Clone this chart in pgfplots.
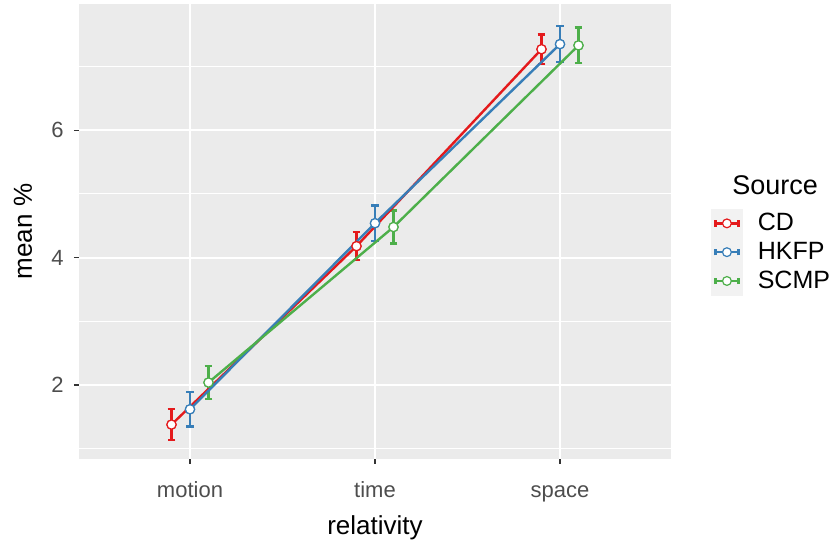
\documentclass[border=0pt]{standalone}
\usepackage{pgfplots}
\pgfplotsset{compat=1.18}
\usepackage{pgfplotstable}
\usepackage{fontspec}
\setmainfont{Liberation Sans}
\definecolor{cdred}{HTML}{E41A1C}
\definecolor{hkblue}{HTML}{377EB8}
\definecolor{scgreen}{HTML}{4DAF4A}
\definecolor{panel}{HTML}{EBEBEB}
\definecolor{keybg}{HTML}{F2F2F2}
\definecolor{ticklab}{HTML}{4D4D4D}
\definecolor{tickcol}{HTML}{333333}

\pgfplotstableread{
x y e
0.9 1.38 0.24
1.9 4.18 0.22
2.9 7.27 0.23
}\tcd
\pgfplotstableread{
x y e
1.0 1.62 0.27
2.0 4.54 0.28
3.0 7.35 0.28
}\thk
\pgfplotstableread{
x y e
1.1 2.04 0.26
2.1 4.48 0.26
3.1 7.33 0.28
}\tsc

\pgfplotsset{
  errs/.style={forget plot, color=#1, only marks, mark=none, line width=1.2pt,
    error bars/y dir=both, error bars/y explicit,
    error bars/error mark=|,
    error bars/error bar style={color=#1, line width=1.2pt, solid},
    error bars/error mark options={color=#1, line width=1.2pt, mark size=1.9pt, solid}},
  lin/.style={forget plot, draw=#1, line width=1.2pt, mark=none},
  pts/.style={forget plot, only marks, mark=*, mark size=2.3pt,
    mark options={draw=#1, fill=white, line width=0.6pt, solid}},
  srckey/.style={legend image code/.code={
    \fill[keybg] (0pt,-7pt) rectangle (15.5pt,7pt);
    \draw[#1, line width=1.2pt] (2pt,0pt) -- (13.5pt,0pt);
    \draw[#1, line width=1.2pt] (2pt,-1.6pt) -- (2pt,1.6pt) (13.5pt,-1.6pt) -- (13.5pt,1.6pt);
    \draw[#1, line width=0.6pt, fill=white] (7.75pt,0pt) circle (2.2pt);}},
}

\begin{document}
\begin{tikzpicture}
\useasboundingbox (-39.5pt,-42.5pt) rectangle (380pt,229.5pt);
\begin{axis}[
  scale only axis, width=296pt, height=227.5pt,
  xmin=0.4, xmax=3.6, ymin=0.84, ymax=7.98,
  axis background/.style={fill=panel},
  axis line style={draw=none},
  xtick={1,2,3}, xticklabels={motion,time,space},
  ytick={2,4,6}, minor ytick={1,3,5,7},
  xtick pos=bottom, ytick pos=left,
  grid=both,
  major grid style={white, line width=1.1pt},
  minor grid style={white, line width=0.55pt},
  tick align=outside, major tick length=2.5pt, minor tick length=0pt,
  tick style={tickcol, line width=0.6pt},
  /pgf/number format/assume math mode=true,
  ticklabel style={font=\fontsize{11}{13}\selectfont, text=ticklab},
  xticklabel style={anchor=base, yshift=-17pt},
  yticklabel style={anchor=east, inner sep=0pt, xshift=-5pt},
  xlabel={relativity}, ylabel={mean \%},
  label style={font=\fontsize{13}{15}\selectfont},
  xlabel style={at={(axis description cs:0.5,-0.152)}, anchor=center},
  ylabel style={at={(axis description cs:-0.0946,0.5)}, anchor=center},
  legend style={at={(1.0676,0.5495)}, anchor=north west, draw=none, fill=none,
    inner sep=0pt, outer sep=0pt, row sep=0pt,
    font=\fontsize{12.5}{15}\selectfont,
    nodes={inner sep=0pt, minimum height=14pt},
    /tikz/every odd column/.append style={column sep=7.5pt}},
  legend cell align=left,
]
\addplot[errs=cdred] table[x=x, y=y, y error=e] {\tcd};
\addplot[errs=hkblue] table[x=x, y=y, y error=e] {\thk};
\addplot[errs=scgreen] table[x=x, y=y, y error=e] {\tsc};
\addplot[lin=cdred] table[x=x, y=y] {\tcd};
\addplot[lin=hkblue] table[x=x, y=y] {\thk};
\addplot[lin=scgreen] table[x=x, y=y] {\tsc};
\addplot[pts=cdred] table[x=x, y=y] {\tcd};
\addplot[pts=hkblue] table[x=x, y=y] {\thk};
\addplot[pts=scgreen] table[x=x, y=y] {\tsc};
\addlegendimage{srckey=cdred}
\addlegendentry{CD}
\addlegendimage{srckey=hkblue}
\addlegendentry{HKFP}
\addlegendimage{srckey=scgreen}
\addlegendentry{SCMP}
\end{axis}
\node[anchor=base west, inner sep=0pt, font=\fontsize{13.5}{16}\selectfont] at (326.5pt,132pt) {Source};
\end{tikzpicture}
\end{document}
